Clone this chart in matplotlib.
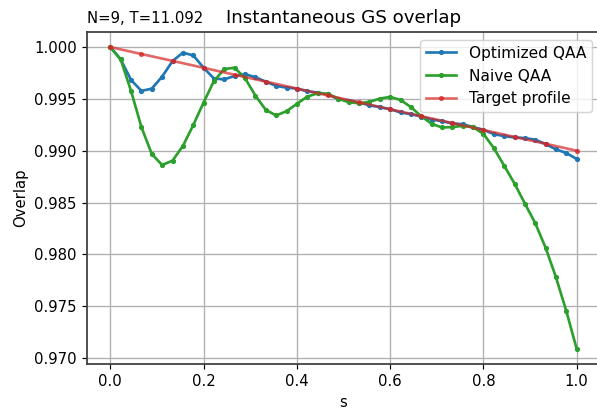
import numpy as np
import matplotlib.pyplot as plt

# --- data ---
s_fine = np.linspace(0.0, 1.0, 46)
s_target = np.linspace(0.0, 1.0, 16)

optimized = [1.00000, 0.99881, 0.99683, 0.99577, 0.99599, 0.99715, 0.99865, 0.99946,
             0.99920, 0.99801, 0.99696, 0.99689, 0.99721, 0.99740, 0.99708, 0.99667,
             0.99625, 0.99609, 0.99599, 0.99574, 0.99561, 0.99545, 0.99497, 0.99484,
             0.99465, 0.99439, 0.99420, 0.99401, 0.99369, 0.99353, 0.99330, 0.99301,
             0.99285, 0.99263, 0.99256, 0.99228, 0.99202, 0.99160, 0.99141, 0.99128,
             0.99122, 0.99106, 0.99064, 0.99013, 0.98978, 0.98920]

naive = [1.00000, 0.99881, 0.99577, 0.99228, 0.98968, 0.98862, 0.98904, 0.99045,
         0.99247, 0.99465, 0.99673, 0.99788, 0.99801, 0.99699, 0.99532, 0.99394,
         0.99340, 0.99381, 0.99452, 0.99522, 0.99554, 0.99548, 0.99503, 0.99468,
         0.99458, 0.99471, 0.99503, 0.99519, 0.99490, 0.99421, 0.99333, 0.99260,
         0.99224, 0.99228, 0.99240, 0.99228, 0.99163, 0.99026, 0.98856, 0.98683,
         0.98490, 0.98301, 0.98064, 0.97779, 0.97452, 0.97087]

target = [1.00000, 0.99933, 0.99867, 0.99800, 0.99733, 0.99667, 0.99600, 0.99533,
          0.99467, 0.99400, 0.99333, 0.99267, 0.99200, 0.99133, 0.99067, 0.99000]

# --- figure ---
DPI = 107
fig = plt.figure(figsize=(597 / DPI, 409 / DPI), dpi=DPI)
ax = fig.add_axes([87 / 597, 45 / 409, 513 / 597, 332 / 409])

ax.plot(s_fine, optimized, color="tab:blue", marker="o", markersize=2.5,
        linewidth=1.8, label="Optimized QAA")
ax.plot(s_fine, naive, color="tab:green", marker="o", markersize=2.5,
        linewidth=1.8, label="Naive QAA")
ax.plot(s_target, target, color="tab:red", marker="o", markersize=2.5,
        linewidth=1.8, alpha=0.7, label="Target profile")

ax.grid(True, color="#b0b0b0", linewidth=0.9)
ax.set_axisbelow(True)
for sp in ax.spines.values():
    sp.set_color("0.25")
    sp.set_linewidth(1.2)

ax.set_xlabel("s")
ax.set_ylabel("Overlap")
ax.set_title("Instantaneous GS overlap", fontsize=12.3)
ax.set_title("N=9, T=11.092", loc="left", fontsize=10)
ax.legend(loc="upper right", fontsize=10.35)

fig.savefig("out.png", dpi=DPI)
